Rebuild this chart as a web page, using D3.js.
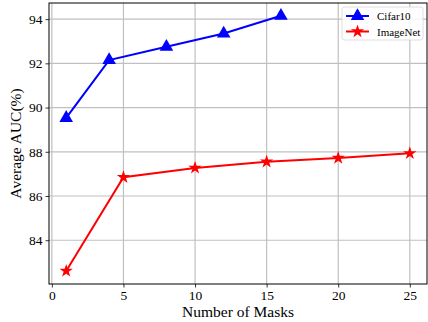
<!DOCTYPE html>
<html>
<head>
<meta charset="utf-8">
<script src="https://cdn.jsdelivr.net/npm/d3@7"></script>
<style>
  body { margin: 0; background: #fff; }
  text { font-family: "Liberation Serif", "Times New Roman", serif; fill: #000; }
</style>
</head>
<body>
<div id="chart"></div>
<script>
var cifarMasks = [1, 4, 8, 12, 16];
var cifarAuc = [89.53, 92.15, 92.75, 93.35, 94.15];
var imagenetMasks = [1, 5, 10, 15, 20, 25];
var imagenetAuc = [82.61, 86.85, 87.27, 87.55, 87.72, 87.93];
var xTicks = [0, 5, 10, 15, 20, 25];
var yTicks = [84, 86, 88, 90, 92, 94];

var width = 428, height = 322;
var margin = {left: 49, right: 1, top: 3, bottom: 38};
var innerW = width - margin.left - margin.right;
var innerH = height - margin.top - margin.bottom;

var svg = d3.select("#chart").append("svg")
    .attr("width", width)
    .attr("height", height);

var g = svg.append("g")
    .attr("transform", `translate(${margin.left}, ${margin.top})`);

var x = d3.scaleLinear().domain([-0.2, 26.2]).range([0, innerW]);
var y = d3.scaleLinear().domain([82.02, 94.73]).range([innerH, 0]);

// grid
g.selectAll(".vgrid").data(xTicks).enter().append("line")
    .attr("x1", d => x(d)).attr("x2", d => x(d))
    .attr("y1", 0).attr("y2", innerH)
    .attr("stroke", "#c0c0c0").attr("stroke-width", 1.2);
g.selectAll(".hgrid").data(yTicks).enter().append("line")
    .attr("x1", 0).attr("x2", innerW)
    .attr("y1", d => y(d)).attr("y2", d => y(d))
    .attr("stroke", "#c0c0c0").attr("stroke-width", 1.2);

// axes
var xAxis = g.append("g")
    .attr("transform", `translate(0, ${innerH})`)
    .call(d3.axisBottom(x).tickValues(xTicks).tickSize(3.5).tickPadding(3));
var yAxis = g.append("g")
    .call(d3.axisLeft(y).tickValues(yTicks).tickSize(3.5).tickPadding(3));
[xAxis, yAxis].forEach(function(a) {
  a.attr("font-family", null).attr("font-size", null);
  a.select(".domain").remove();
  a.selectAll("text").style("font-size", "13.5px");
  a.selectAll("line").attr("stroke", "#000").attr("stroke-width", 0.8);
});

// frame
g.append("rect")
    .attr("x", 0).attr("y", 0).attr("width", innerW).attr("height", innerH)
    .attr("fill", "none").attr("stroke", "#000").attr("stroke-width", 1);

// axis labels
svg.append("text")
    .attr("x", margin.left + innerW / 2).attr("y", height - 5)
    .style("text-anchor", "middle").style("font-size", "15.5px")
    .text("Number of Masks");
svg.append("text")
    .attr("transform", `translate(21, ${margin.top + innerH / 2}) rotate(-90)`)
    .style("text-anchor", "middle").style("font-size", "15.5px")
    .text("Average AUC(%)");

var line = d3.line().x(d => x(d[0])).y(d => y(d[1]));
var triangle = d3.symbol().type(d3.symbolTriangle).size(80);
var star = d3.symbol().type(d3.symbolStar).size(55);

var cifar = d3.zip(cifarMasks, cifarAuc);
var imagenet = d3.zip(imagenetMasks, imagenetAuc);

g.append("path").datum(cifar).attr("d", line)
    .attr("fill", "none").attr("stroke", "blue").attr("stroke-width", 2);
g.selectAll(".tri").data(cifar).enter().append("path")
    .attr("d", triangle)
    .attr("transform", d => `translate(${x(d[0])}, ${y(d[1])})`)
    .attr("fill", "blue");

g.append("path").datum(imagenet).attr("d", line)
    .attr("fill", "none").attr("stroke", "red").attr("stroke-width", 2);
g.selectAll(".star").data(imagenet).enter().append("path")
    .attr("d", star)
    .attr("transform", d => `translate(${x(d[0])}, ${y(d[1])})`)
    .attr("fill", "red");

// legend
var legend = svg.append("g").attr("transform", "translate(342, 7)");
legend.append("rect")
    .attr("width", 81).attr("height", 33).attr("rx", 2.5)
    .attr("fill", "white").attr("fill-opacity", 0.85)
    .attr("stroke", "#d6d6d6").attr("stroke-width", 0.8);
var entries = [
  {name: "Cifar10", color: "blue", sym: triangle},
  {name: "ImageNet", color: "red", sym: star}
];
entries.forEach(function(e, i) {
  var ly = 9 + i * 15.5;
  legend.append("line")
      .attr("x1", 4).attr("x2", 27).attr("y1", ly).attr("y2", ly)
      .attr("stroke", e.color).attr("stroke-width", 2);
  legend.append("path").attr("d", e.sym)
      .attr("transform", `translate(15.5, ${ly})`).attr("fill", e.color);
  legend.append("text")
      .attr("x", 35).attr("y", ly + 4)
      .style("font-size", "11px")
      .text(e.name);
});
</script>
</body>
</html>
